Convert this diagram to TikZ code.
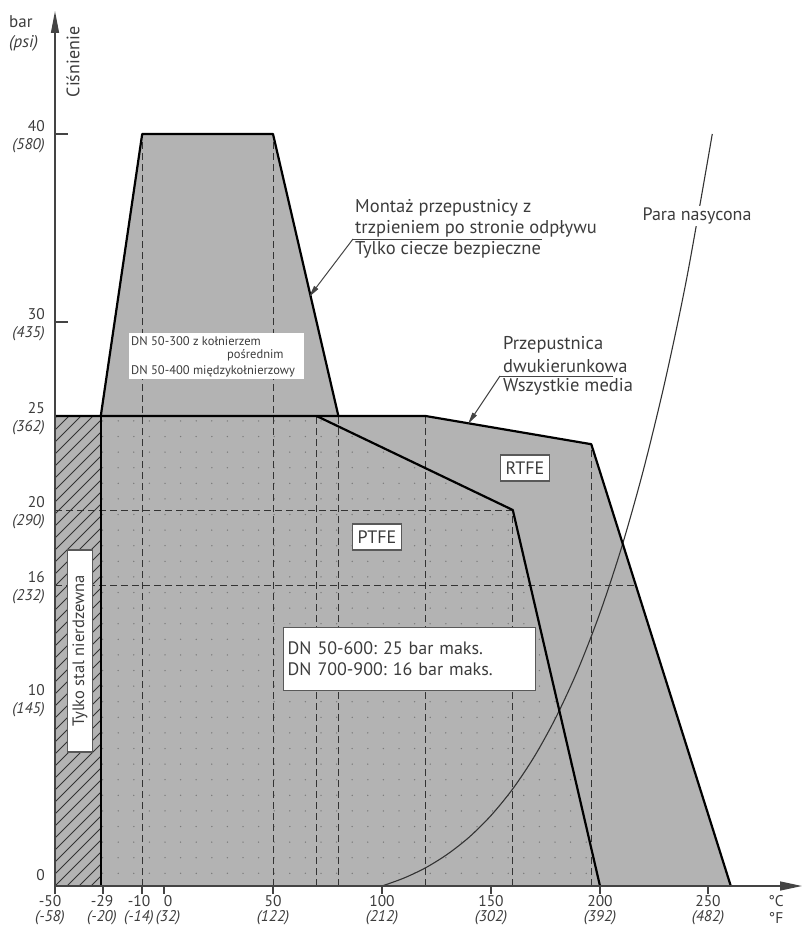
\documentclass[tikz,border=0pt]{standalone}
\usepackage{fontspec}
\setmainfont{PT Sans}
\usetikzlibrary{arrows.meta}
\definecolor{fillgray}{HTML}{B3B3B3}
\definecolor{txt}{HTML}{3C3C3C}
\definecolor{dashc}{HTML}{333333}
\definecolor{dotc}{HTML}{7A7A7A}
\definecolor{axisc}{HTML}{444444}
\frenchspacing
\begin{document}
\begin{tikzpicture}[x=1pt,y=-1pt,
  lbl/.style={text=txt, inner sep=0pt, font=\fontsize{15.5}{17}\selectfont},
  lbli/.style={text=txt, inner sep=0pt, font=\fontsize{15.5}{17}\selectfont\itshape},
  ann/.style={text=txt, inner sep=0pt, anchor=west, font=\fontsize{18.5}{21}\selectfont},
  small/.style={text=txt, inner sep=0pt, anchor=west, font=\fontsize{12.5}{14}\selectfont},
  bound/.style={line width=2.2pt, black, line join=round},
  dashline/.style={dashc, line width=0.9pt, dash pattern=on 7pt off 4pt},
  hatchline/.style={dashc, line width=0.8pt},
  axisline/.style={axisc, line width=1.4pt},
  leader/.style={axisc, line width=1pt, -{Triangle[length=12pt,width=5pt]}},
  tagbox/.style={draw=gray!70!black, fill=white, line width=1.3pt, text=txt, font=\fontsize{18}{21}\selectfont, inner sep=3pt},
]
\useasboundingbox (0,0) rectangle (803,928);

% ---------- chart in data coordinates ----------
\begin{scope}[shift={(164pt,-886pt)}, x=2.18pt, y=18.8pt]
  \fill[fillgray] (-50,0) rectangle (-29,25);
  \fill[fillgray] (-29,0) -- (-29,25) -- (-10,40) -- (50,40) -- (80,25) -- (120,25) -- (196,23.5) -- (260,0) -- cycle;
  % dots in PTFE area
  \begin{scope}
    \clip (-29,0) -- (-29,25) -- (70,25) -- (160,20) -- (200,0) -- cycle;
    \foreach \i in {-7,...,29}{
      \foreach \j in {0,...,30}{
        \fill[dotc] ({(\i*15.6+1)/2.18},{(12.7+\j*15.6)/18.8}) circle[radius=0.75pt];
      }
    }
  \end{scope}
  % hatching
  \begin{scope}
    \clip (-50,0) rectangle (-29,25);
    \foreach \k in {-6,...,40}{
      \draw[hatchline] (-50,{\k*12/18.8}) -- ({-50+80/2.18},{(\k*12+80)/18.8});
    }
  \end{scope}
  % dashed guides
  \foreach \t/\p in {-10/40, 50/40, 70/25, 80/25, 120/25, 160/20, 196/23.5}{
    \draw[dashline] (\t,0) -- (\t,\p);
  }
  \draw[dashline] (-50,20) -- (160,20);
  \draw[dashline] (-50,16) -- (216.4,16);
  % saturated steam curve (gauge pressure)
  \draw[dashc, line width=1.1pt] plot[smooth, tension=0.5] coordinates {(100,0) (110,0.42) (120,0.97) (130,1.69) (140,2.60) (150,3.75) (160,5.17) (170,6.91) (180,9.02) (190,11.54) (200,14.53) (210,18.05) (220,22.17) (230,26.94) (240,32.46) (251.5,40.0)};
  \draw[bound] (-29,25) -- (-10,40) -- (50,40) -- (80,25);
  \draw[bound] (-50,25) -- (120,25) -- (196,23.5) -- (260,0);
  \draw[bound] (-29,0) -- (-29,25);
  \draw[bound] (70,25) -- (160,20) -- (200,0);
\end{scope}

% ---------- axes ----------
\coordinate (origin) at (55,886);
\coordinate (xend) at (802,886);
\coordinate (yend) at (55,11);
\draw[axisline, -{Triangle[length=22pt,width=9pt]}] (origin) -- (xend);
\draw[axisline, -{Triangle[length=22pt,width=8pt]}] (55,894) -- (yend);
\foreach \y in {134,322}{ \draw[axisline, line width=1.2pt] (55,\y) -- (68,\y); }
\foreach \x in {103,142,164,273,382,491,600,708}{ \draw[axisline, line width=1.2pt] (\x,886) -- (\x,894); }

% y labels
\node[lbl, anchor=west, font=\fontsize{17}{19}\selectfont] (ybar) at (9,22) {bar};
\node[lbli, anchor=west, font=\fontsize{17}{19}\selectfont\itshape] (ypsi) at (9,43) {(psi)};
\node[lbl, rotate=90, font=\fontsize{18}{20}\selectfont] (ycis) at (73,62) {Ciśnienie};
\foreach \n/\v/\num/\psi in {y40/134/40/580, y30/322/30/435, y25/416/25/362, y20/510/20/290, y16/585/16/232, y10/698/10/145}{
  \node[lbl, anchor=east] (\n a) at (45,\v-8) {\num};
  \node[lbli, anchor=east] (\n b) at (45,\v+12) {(\psi)};
}
\node[lbl, anchor=east] (y0a) at (45,875) {0};

% x labels
\foreach \n/\x/\c/\f in {xa/50/-50/-58, xb/102/-29/-20, xc/139/-10/-14, xd/168/0/32, xe/273/50/122, xf/382/100/212, xg/491/150/302, xh/600/200/392, xi/708/250/482}{
  \node[lbl] (\n c) at (\x,901) {\c};
  \node[lbli] (\n f) at (\x,918) {(\f)};
}
\node[lbl] (unitc) at (776,901) {°C};
\node[lbl] (unitf) at (776,918) {°F};

% ---------- annotations ----------
\node[ann] (mont1) at (355,208) {Montaż przepustnicy z};
\node[ann] (mont2) at (355,229) {trzpieniem po stronie odpływu};
\node[ann] (mont3) at (355,250) {Tylko ciecze bezpieczne};
\coordinate (montu) at (353,239);
\coordinate (montue) at (542,239);
\coordinate (monttip) at (309,297);
\draw[axisc, line width=1pt] (montue) -- (montu);
\draw[leader] (montu) -- (monttip);

\node[ann] (bi1) at (503,345) {Przepustnica};
\node[ann] (bi2) at (503,366) {dwukierunkowa};
\node[ann] (bi3) at (503,387) {Wszystkie media};
\coordinate (biu) at (500,376);
\coordinate (biue) at (613,376);
\coordinate (bitip) at (468,424);
\draw[axisc, line width=1pt] (biue) -- (biu);
\draw[leader] (biu) -- (bitip);

\node[ann, anchor=center, fill=white, inner sep=2pt, font=\fontsize{18}{21}\selectfont] (para) at (697,216) {Para nasycona};

% boxes
\node[fill=white, inner sep=0pt, minimum width=175pt, minimum height=46pt, anchor=north west] (dnbox) at (129,333) {};
\node[small] (dn1) at (131,341) {DN 50-300 z kołnierzem};
\node[small] (dn2) at (227,355) {pośrednim};
\node[small] (dn3) at (131,371) {DN 50-400 międzykołnierzowy};

\node[tagbox, minimum width=49pt, minimum height=26pt] (rtfe) at (525,468) {RTFE};
\node[tagbox, minimum width=49pt, minimum height=26pt] (ptfe) at (377,537) {PTFE};
\node[tagbox, anchor=north west, text width=244pt, minimum height=63pt, align=left, inner sep=4pt] (dnmax) at (283,627) {DN 50-600: 25 bar maks.\\DN 700-900: 16 bar maks.};
\node[tagbox, rotate=90, minimum width=202pt, minimum height=25pt, font=\fontsize{16.5}{19}\selectfont] (stal) at (80,651) {Tylko stal nierdzewna};
\end{tikzpicture}
\end{document}
